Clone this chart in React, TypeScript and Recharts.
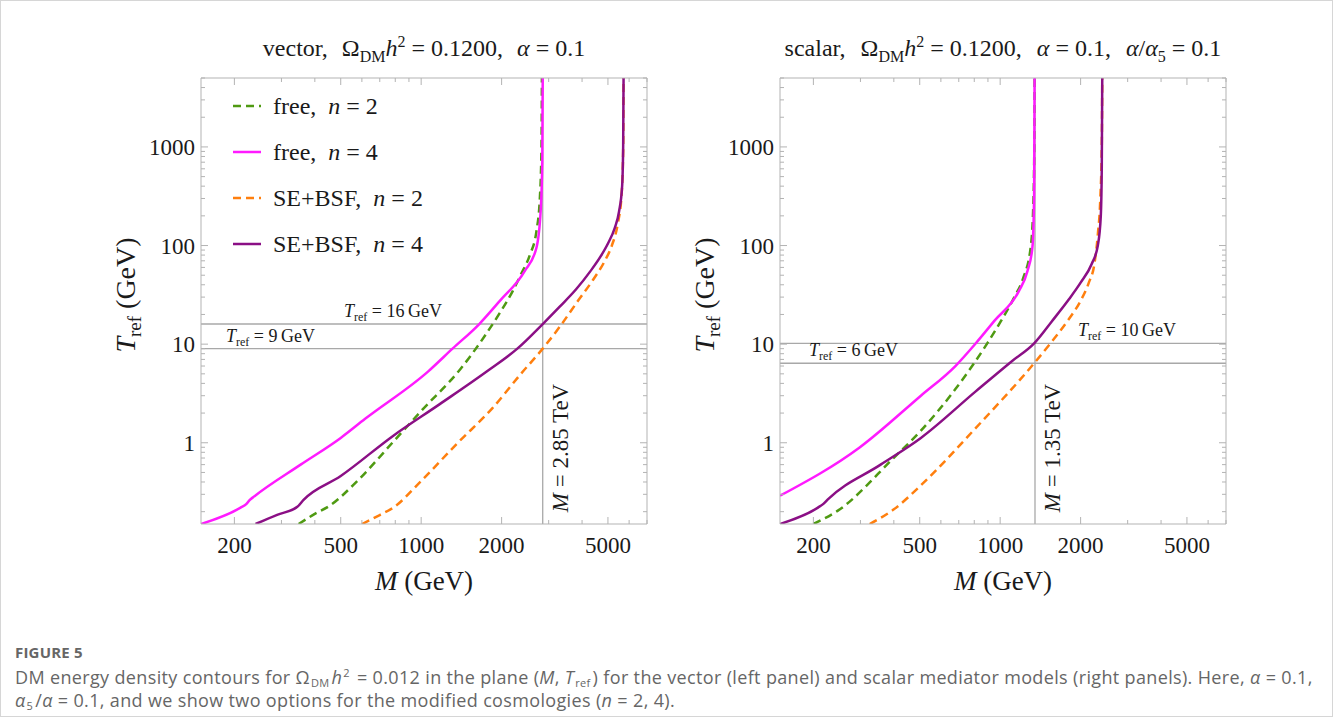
import React from 'react';
import { LineChart, Line, XAxis, YAxis, ReferenceLine, Legend } from 'recharts';

// axis ranges and ticks (log scales)
const xDomain = [150, 7000];
const yDomain = [0.15, 5000];
const xMajor = [200, 500, 1000, 2000, 5000];
const xMinor = [300, 400, 600, 700, 800, 900, 3000, 4000, 6000, 7000];
const yMajor = [1, 10, 100, 1000];
const yMinor = [
    0.2, 0.3, 0.4, 0.5, 0.6, 0.7, 0.8, 0.9,
    2, 3, 4, 5, 6, 7, 8, 9,
    20, 30, 40, 50, 60, 70, 80, 90,
    200, 300, 400, 500, 600, 700, 800, 900,
    2000, 3000, 4000, 5000,
];

// vector mediator (left panel): M in GeV, T_ref in GeV
const vecFreeN2M = [348, 400, 455, 577, 793, 1000, 1403, 1729, 1971, 2203, 2362, 2550, 2700, 2780, 2820, 2830];
const vecFreeN2T = [0.15, 0.19, 0.23, 0.41, 1.05, 2.1, 5.6, 12.1, 20.8, 34.7, 51, 80, 140, 300, 1000, 5000];
const vecFreeN4M = [150, 211, 222, 228, 235, 354, 500, 617, 1063, 1310, 1650, 1970, 2440, 2700, 2800, 2840, 2850];
const vecFreeN4T = [0.15, 0.22, 0.24, 0.262, 0.28, 0.6, 1.12, 1.75, 5.3, 9, 16, 27.5, 55, 95, 225, 720, 5000];
const vecSEN2M = [601, 700, 787, 1000, 1362, 1852, 2362, 2850, 3300, 3880, 4400, 4840, 5170, 5450, 5620, 5700, 5720];
const vecSEN2T = [0.15, 0.185, 0.22, 0.41, 0.98, 2.26, 5, 9, 15, 28, 45, 68, 100, 170, 320, 900, 5000];
const vecSEN4M = [240, 289, 344, 363, 500, 787, 1170, 1780, 2290, 2850, 3300, 3800, 4300, 4700, 5000, 5300, 5500, 5650, 5700, 5720];
const vecSEN4T = [0.15, 0.186, 0.224, 0.264, 0.46, 1.18, 2.45, 5.4, 9, 16, 24, 36, 55, 78, 105, 150, 220, 400, 1000, 5000];

// scalar mediator (right panel)
const scaFreeN2M = [200, 247, 399, 504, 680, 897, 1005, 1130, 1220, 1300, 1330, 1342, 1345];
const scaFreeN2T = [0.15, 0.205, 0.7, 1.32, 3.5, 10.3, 17, 30, 47, 95, 250, 1000, 5000];
const scaFreeN4M = [150, 297, 505, 680, 808, 951, 1176, 1265, 1320, 1340, 1345];
const scaFreeN4T = [0.29, 0.89, 3.0, 6.0, 10.1, 17.2, 34.7, 55, 95, 330, 5000];
const scaSEN2M = [325, 399, 505, 808, 1340, 1560, 1800, 2000, 2150, 2250, 2320, 2370, 2400, 2410];
const scaSEN2T = [0.15, 0.21, 0.37, 1.4, 6.4, 10.6, 17.7, 27.5, 42.5, 64, 130, 300, 1000, 5000];
const scaSEN4M = [150, 208, 218, 226, 357, 505, 808, 1109, 1340, 1560, 1800, 2000, 2200, 2320, 2380, 2400, 2410];
const scaSEN4T = [0.15, 0.22, 0.24, 0.265, 0.6, 1.12, 3.3, 6.75, 10.2, 17, 28, 42, 65, 100, 200, 600, 5000];

const SERIF = '"Liberation Serif", "DejaVu Serif", serif';
const FRAME = '#b3b3b3';
const REF = '#a8a8a8';
const INK = '#1a1a1a';

const seriesStyle = [
    { name: 'free', n: 2, color: '#4f9a12', dash: '8 5' },
    { name: 'free', n: 4, color: '#ff1aff', dash: undefined },
    { name: 'SE+BSF', n: 2, color: '#ff7f0e', dash: '8 5' },
    { name: 'SE+BSF', n: 4, color: '#8b0f85', dash: undefined },
];

const zip = (m: number[], t: number[]) => m.map((v, i) => ({ M: v, T: t[i] }));

const vectorSeries = [
    zip(vecFreeN2M, vecFreeN2T),
    zip(vecFreeN4M, vecFreeN4T),
    zip(vecSEN2M, vecSEN2T),
    zip(vecSEN4M, vecSEN4T),
];
const scalarSeries = [
    zip(scaFreeN2M, scaFreeN2T),
    zip(scaFreeN4M, scaFreeN4T),
    zip(scaSEN2M, scaSEN2T),
    zip(scaSEN4M, scaSEN4T),
];

const BottomTick = (props: any) => {
    const { x, y, payload } = props;
    const major = xMajor.includes(payload.value);
    return (
        <g>
            <line x1={x} x2={x} y1={y} y2={y - (major ? 7 : 4)} stroke={FRAME} />
            {major && (
                <text x={x} y={y + 29} textAnchor="middle" fontSize={23} fontFamily={SERIF} fill={INK}>
                    {payload.value}
                </text>
            )}
        </g>
    );
};

const TopTick = (props: any) => {
    const { x, y, payload } = props;
    const major = xMajor.includes(payload.value);
    return <line x1={x} x2={x} y1={y} y2={y + (major ? 7 : 4)} stroke={FRAME} />;
};

const LeftTick = (props: any) => {
    const { x, y, payload } = props;
    const major = yMajor.includes(payload.value);
    return (
        <g>
            <line x1={x} x2={x + (major ? 7 : 4)} y1={y} y2={y} stroke={FRAME} />
            {major && (
                <text x={x - 6} y={y + 8} textAnchor="end" fontSize={23} fontFamily={SERIF} fill={INK}>
                    {payload.value}
                </text>
            )}
        </g>
    );
};

const RightTick = (props: any) => {
    const { x, y, payload } = props;
    const major = yMajor.includes(payload.value);
    return <line x1={x} x2={x - (major ? 7 : 4)} y1={y} y2={y} stroke={FRAME} />;
};

const XTitle = (props: any) => {
    const { viewBox } = props;
    return (
        <text x={viewBox.x + viewBox.width / 2} y={viewBox.y + 66} textAnchor="middle" fontSize={27} fontFamily={SERIF} fill={INK}>
            <tspan fontStyle="italic">M</tspan>
            <tspan> (GeV)</tspan>
        </text>
    );
};

const YTitle = (props: any) => {
    const { viewBox } = props;
    const cx = viewBox.x + viewBox.width - 66;
    const cy = viewBox.y + viewBox.height / 2 - 6;
    return (
        <text x={cx} y={cy} transform={`rotate(-90 ${cx} ${cy})`} textAnchor="middle" fontSize={28} fontFamily={SERIF} fill={INK}>
            <tspan fontStyle="italic">T</tspan>
            <tspan fontSize={19} dy={6}>ref</tspan>
            <tspan dy={-6}> (GeV)</tspan>
        </text>
    );
};

const hLabel = (dx: number, text: string) => (props: any) => {
    const { viewBox } = props;
    return (
        <text x={viewBox.x + dx} y={viewBox.y - 7} fontSize={18} fontFamily={SERIF} fill={INK}>
            <tspan fontStyle="italic">T</tspan>
            <tspan fontSize={12} dy={4}>ref</tspan>
            <tspan dy={-4}>{` = ${text}\u2009GeV`}</tspan>
        </text>
    );
};

const vLabel = (text: string) => (props: any) => {
    const { viewBox } = props;
    const cx = viewBox.x + 25;
    const cy = viewBox.y + viewBox.height - 76;
    return (
        <text x={cx} y={cy} transform={`rotate(-90 ${cx} ${cy})`} textAnchor="middle" fontSize={23} fontFamily={SERIF} fill={INK}>
            <tspan fontStyle="italic">M</tspan>
            <tspan>{` = ${text} TeV`}</tspan>
        </text>
    );
};

const LegendBox = () => (
    <div style={{ fontFamily: SERIF, fontSize: 24, color: INK }}>
        {seriesStyle.map((s, i) => (
            <div key={i} style={{ display: 'flex', alignItems: 'center', height: 46 }}>
                <svg width={38} height={10}>
                    <line x1={6} x2={34} y1={5} y2={5} stroke={s.color} strokeWidth={2.5} strokeDasharray={s.dash} />
                </svg>
                <span style={{ marginLeft: 8, whiteSpace: 'nowrap' }}>
                    {s.name},&nbsp; <i>n</i> = {s.n}
                </span>
            </div>
        ))}
    </div>
);

interface RefH {
    value: number;
    dx: number;
    text: string;
}

interface PanelProps {
    series: Array<Array<{ M: number; T: number }>>;
    refM: number;
    refMText: string;
    refT: RefH[];
    showLegend?: boolean;
    width: number;
    plotLeft: number;
}

const PLOT_W = 446;
const CHART_H = 600;
const AXIS_W = 60;
const AXIS_H = 30;

const Panel: React.FC<PanelProps> = ({ series, refM, refMText, refT, showLegend, width, plotLeft }) => {
    const xTicks = [...xMajor, ...xMinor];
    const yTicks = [...yMajor, ...yMinor];
    return (
        <LineChart
            width={width}
            height={CHART_H}
            margin={{
                top: 77 - AXIS_H,
                bottom: CHART_H - 523 - AXIS_H,
                left: plotLeft - AXIS_W,
                right: width - plotLeft - PLOT_W - AXIS_W,
            }}>
            <XAxis
                dataKey="M"
                type="number"
                scale="log"
                domain={xDomain}
                allowDataOverflow
                ticks={xTicks}
                interval={0}
                height={AXIS_H}
                tickSize={0}
                tickMargin={0}
                tickLine={false}
                axisLine={{ stroke: FRAME }}
                tick={<BottomTick />}
                label={<XTitle />}
            />
            <XAxis
                xAxisId="top"
                orientation="top"
                dataKey="M"
                type="number"
                scale="log"
                domain={xDomain}
                allowDataOverflow
                ticks={xTicks}
                interval={0}
                height={AXIS_H}
                tickSize={0}
                tickMargin={0}
                tickLine={false}
                axisLine={{ stroke: FRAME }}
                tick={<TopTick />}
            />
            <YAxis
                dataKey="T"
                type="number"
                scale="log"
                domain={yDomain}
                allowDataOverflow
                ticks={yTicks}
                interval={0}
                width={AXIS_W}
                tickSize={0}
                tickMargin={0}
                tickLine={false}
                axisLine={{ stroke: FRAME }}
                tick={<LeftTick />}
                label={<YTitle />}
            />
            <YAxis
                yAxisId="right"
                orientation="right"
                dataKey="T"
                type="number"
                scale="log"
                domain={yDomain}
                allowDataOverflow
                ticks={yTicks}
                interval={0}
                width={AXIS_W}
                tickSize={0}
                tickMargin={0}
                tickLine={false}
                axisLine={{ stroke: FRAME }}
                tick={<RightTick />}
            />
            {refT.map(r => (
                <ReferenceLine key={r.value} y={r.value} stroke={REF} strokeWidth={1.3} label={hLabel(r.dx, r.text)} />
            ))}
            <ReferenceLine x={refM} stroke={REF} strokeWidth={1.3} label={vLabel(refMText)} />
            {series.map((d, i) => (
                <Line
                    key={i}
                    data={d}
                    dataKey="T"
                    type="monotone"
                    stroke={seriesStyle[i].color}
                    strokeWidth={2.5}
                    strokeDasharray={seriesStyle[i].dash}
                    dot={false}
                    activeDot={false}
                    isAnimationActive={false}
                />
            ))}
            {showLegend && (
                <Legend
                    layout="vertical"
                    align="center"
                    verticalAlign="middle"
                    content={<LegendBox />}
                    wrapperStyle={{ left: 226, top: 82, width: 280, height: 190 }}
                />
            )}
        </LineChart>
    );
};

const titleStyle: React.CSSProperties = {
    position: 'absolute',
    top: 32,
    fontFamily: SERIF,
    fontSize: 24,
    lineHeight: '30px',
    color: INK,
    whiteSpace: 'nowrap',
    textAlign: 'center',
};
const subStyle: React.CSSProperties = { fontSize: 16, lineHeight: 0 };
const capSub: React.CSSProperties = {
    fontSize: 11,
    lineHeight: '11px',
    position: 'relative',
    top: 3,
    verticalAlign: 'baseline',
    margin: '0 2px 0 1px',
};
const capSup: React.CSSProperties = {
    fontSize: 11,
    lineHeight: '11px',
    position: 'relative',
    top: -7,
    verticalAlign: 'baseline',
    margin: '0 2px 0 1px',
};
const Gap = ({ w }: { w: number }) => <span style={{ display: 'inline-block', width: w }} />;

const App: React.FC = () => {
    return (
        <div
            style={{
                position: 'absolute',
                left: 0,
                top: 0,
                width: 1331,
                height: 715,
                border: '1px solid #d6d6d6',
                background: '#fff',
                overflow: 'hidden',
            }}>
            <div style={{ ...titleStyle, left: 200, width: 446 }}>
                vector,<Gap w={14} />Ω<sub style={subStyle}>DM</sub>
                <i>h</i>
                <sup style={subStyle}>2</sup> = 0.1200,<Gap w={14} />
                <i>α</i> = 0.1
            </div>
            <div style={{ ...titleStyle, left: 779, width: 446 }}>
                scalar,<Gap w={15} />Ω<sub style={subStyle}>DM</sub>
                <i>h</i>
                <sup style={subStyle}>2</sup> = 0.1200,<Gap w={15} />
                <i>α</i> = 0.1,<Gap w={15} />
                <i>α</i>/<i>α</i>
                <sub style={subStyle}>5</sub> = 0.1
            </div>
            <div style={{ position: 'absolute', left: 0, top: 0 }}>
                <Panel
                    series={vectorSeries}
                    refM={2850}
                    refMText="2.85"
                    refT={[
                        { value: 16, dx: 143, text: '16' },
                        { value: 9, dx: 25, text: '9' },
                    ]}
                    showLegend
                    width={666}
                    plotLeft={200}
                />
            </div>
            <div style={{ position: 'absolute', left: 666, top: 0 }}>
                <Panel
                    series={scalarSeries}
                    refM={1350}
                    refMText="1.35"
                    refT={[
                        { value: 10.2, dx: 298, text: '10' },
                        { value: 6.4, dx: 29, text: '6' },
                    ]}
                    width={667}
                    plotLeft={113}
                />
            </div>
            <div
                style={{
                    position: 'absolute',
                    left: 14,
                    top: 641,
                    fontFamily: '"Open Sans", sans-serif',
                    color: '#666',
                    whiteSpace: 'nowrap',
                }}>
                <div style={{ fontSize: 15, lineHeight: '20px', fontWeight: 700, letterSpacing: 0.2, color: '#666' }}>
                    FIGURE 5
                </div>
                <div style={{ fontSize: 18, lineHeight: '23px', marginTop: 4, letterSpacing: 0.35 }}>
                    DM energy density contours for Ω<span style={capSub}>DM</span>
                    <i>h</i>
                    <span style={capSup}>2</span> = 0.012 in the plane (<i>M</i>, <i>T</i>
                    <span style={capSub}>ref</span>) for the vector (left panel) and scalar mediator models (right
                    panels). Here, <i>α</i> = 0.1,
                    <br />
                    <i>α</i>
                    <span style={capSub}>5</span>/<i>α</i> = 0.1, and we show two options for the modified cosmologies
                    (<i>n</i> = 2, 4).
                </div>
            </div>
        </div>
    );
};

export default App;
